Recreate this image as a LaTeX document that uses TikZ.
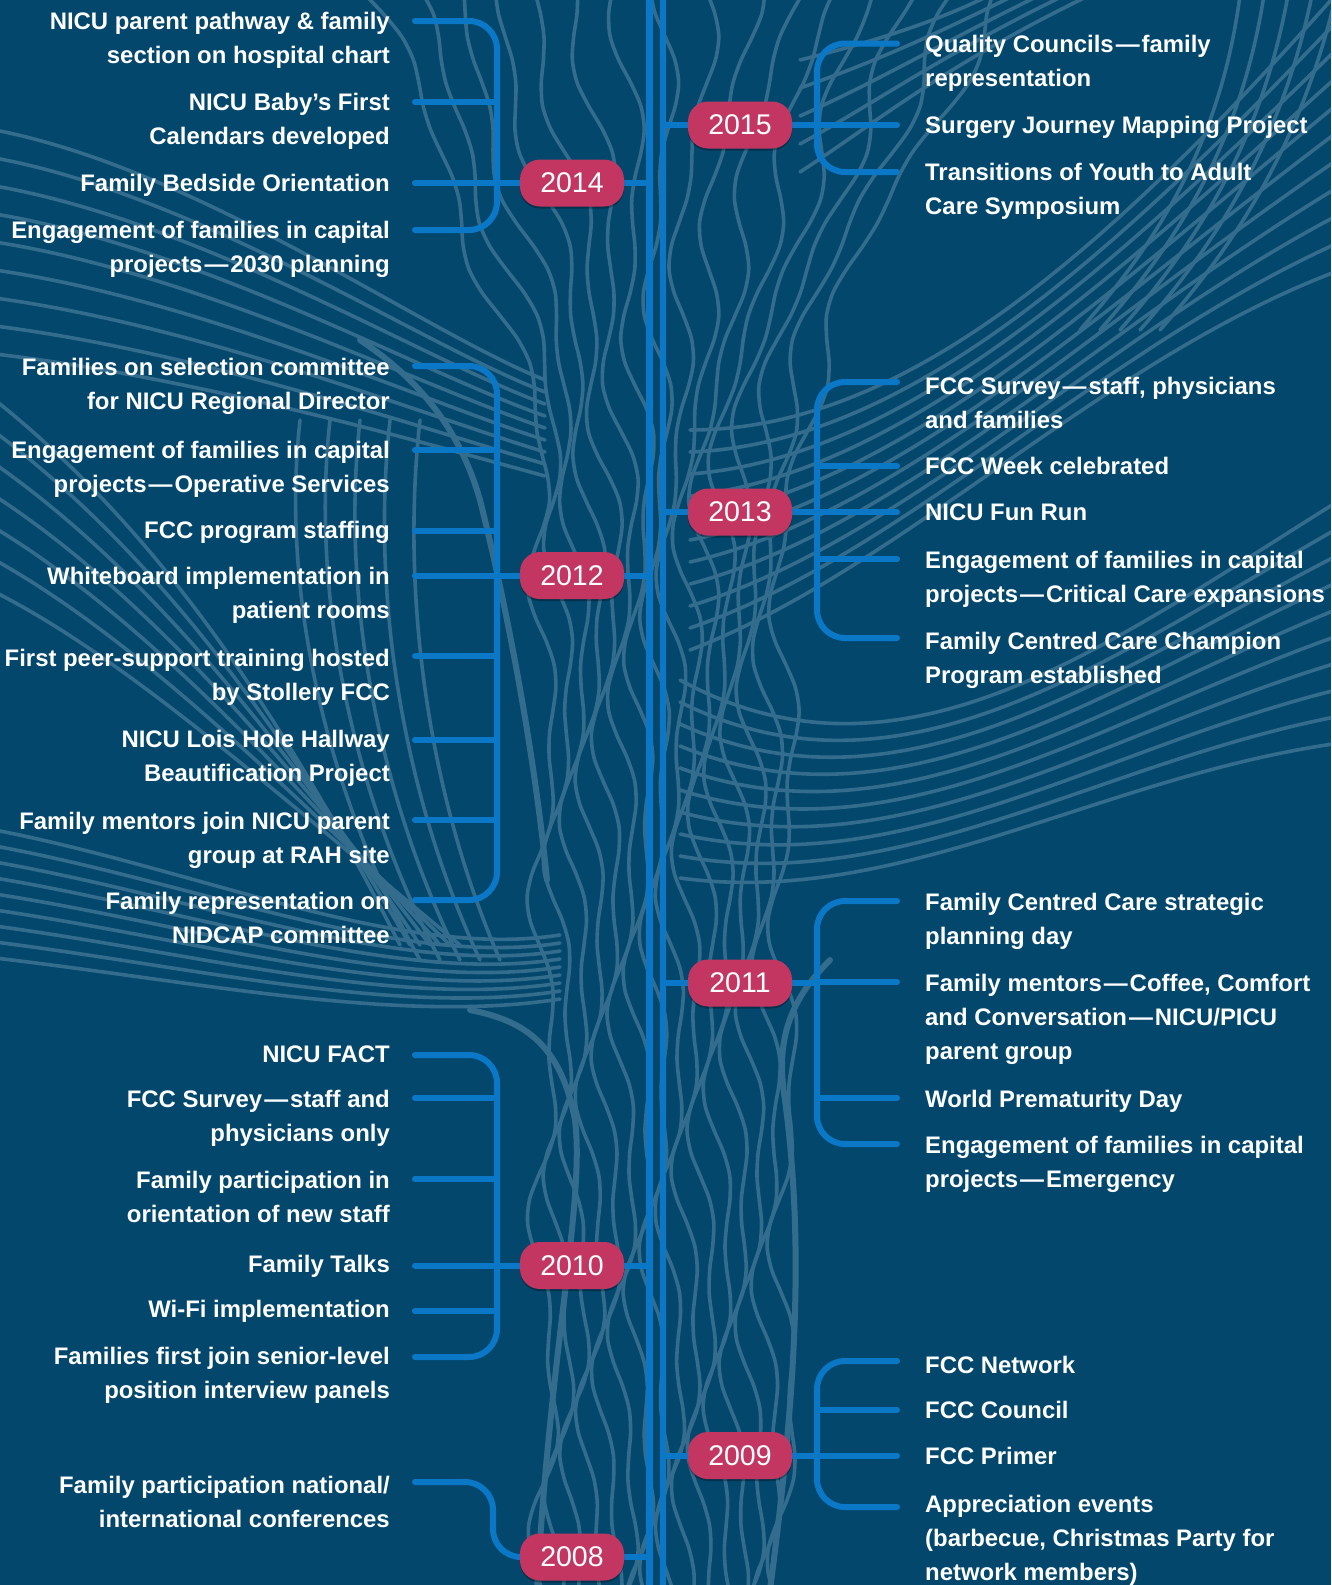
\documentclass[tikz,border=0pt]{standalone}
\usepackage{fontspec}
\setmainfont{Liberation Sans}
\usetikzlibrary{shadows}
\definecolor{bgc}{HTML}{03476D}
\definecolor{grainc}{HTML}{336C8D}
\definecolor{brc}{HTML}{0A78C6}
\definecolor{pillc}{HTML}{C33662}
\newcommand\itemfont{\fontsize{23.9}{34}\selectfont\bfseries}
\newcommand\yearfont{\fontsize{28.5}{34}\selectfont}
\newcommand\Lt[1]{\begin{tabular}[t]{@{}r@{}}#1\end{tabular}}
\newcommand\Rt[1]{\begin{tabular}[t]{@{}l@{}}#1\end{tabular}}
\newcommand\md{\kern2pt—\kern2pt}
\tikzset{
  grain/.style={draw=grainc, line width=3.6pt, line cap=round, line join=round},
  grainedge/.style={grain, line width=6pt},
  br/.style={draw=brc, line width=6pt, line cap=round, rounded corners=28pt},
  tick/.style={draw=brc, line width=6pt, line cap=round},
  trunk/.style={draw=brc, line width=6.5pt},
  pill/.style={fill=pillc, rounded corners=20pt, minimum width=104pt, minimum height=47pt,
    inner sep=0pt, text=white, font=\yearfont,
    drop shadow={shadow xshift=0pt, shadow yshift=-2pt, opacity=0.3, fill=black}},
  lt/.style={anchor=base east, inner sep=0pt, text=white, font=\itemfont},
  rt/.style={anchor=base west, inner sep=0pt, text=white, font=\itemfont},
}
\begin{document}
\begin{tikzpicture}[x=1pt, y=-1pt]
\fill[bgc] (0,0) rectangle (1331,1585);
\clip (0,0) rectangle (1331,1585);
% ---------- wood grain ----------
% trunk
\foreach \i in {0,...,15}{
  \pgfmathsetmacro\f{\i/15}
  \draw[grain] plot[domain=-10:1595, samples=70, smooth, variable=\y]
   ({ (545 - 175*(max(0,(500-\y)/500))^1.4) + \f*((785 + 215*(max(0,(500-\y)/500))^1.4) - (545 - 175*(max(0,(500-\y)/500))^1.4)) + 11*sin(\y*1.1 + \i*47) + 7*sin(\y*2.3 + \i*91) }, {\y});
}
\draw[grainedge] (537,1590) .. controls (550,1350) and (585,1200) .. (575,1120) .. controls (560,1040) and (520,1020) .. (470,1010);
\draw[grainedge] (770,1590) .. controls (795,1400) and (805,1250) .. (785,1100) .. controls (775,1040) and (790,1000) .. (830,960);
\draw[grainedge] (547,880) .. controls (535,760) and (510,620) .. (480,500) .. controls (460,430) and (420,380) .. (360,340);
% upper-left branch
\foreach \i in {0,...,8}{
  \draw[grain] (-5,{130+\i*28}) .. controls (200,{170+\i*26}) and (420,{330+\i*14}) .. ({545},{380+\i*12});
}
% lower-left branch
\foreach \i in {0,...,8}{
  \draw[grain] (-5,{830+\i*16}) .. controls (200,{870+\i*14}) and (400,{960+\i*8}) .. (560,{935+\i*8});
}
% left middle
\foreach \i in {0,...,4}{
  \draw[grain] ({300+\i*30},420) .. controls ({280+\i*30},600) and ({330+\i*25},800) .. ({420+\i*20},960);
}
\foreach \i in {0,...,6}{
  \draw[grain] (-5,{400+\i*32}) .. controls (120,{500+\i*26}) and (250,{650+\i*20}) .. ({400+\i*10},945);
}
% upper-right branch
\foreach \i in {0,...,10}{
  \draw[grain] (690,{430+\i*22}) .. controls (900,{430+\i*14}) and (1100,{260+\i*10}) .. (1340,{-10+\i*28});
}
% right branch
\foreach \i in {0,...,9}{
  \draw[grain] (680,{680+\i*22}) .. controls (900,{800+\i*12}) and (1100,{650+\i*14}) .. (1340,{500+\i*27});
}
% top-right
\foreach \i in {0,...,4}{
  \draw[grain] ({1080+\i*20},330) .. controls ({1150+\i*20},250) and ({1220+\i*20},150) .. ({1240+\i*24},-5);
}
\foreach \i in {0,...,4}{
  \draw[grain] (800,{60+\i*28}) .. controls (880,{40+\i*20}) and (940,{20+\i*12}) .. ({990+\i*25},-5);
}
% ---------- trunk ----------
\coordinate (tL) at (649.5,0);
\coordinate (tR) at (663,0);
\draw[trunk] (649.5,-5) -- (649.5,1590);
\draw[trunk] (663,-5) -- (663,1590);
% ---------- pill centres ----------
\coordinate (c2014) at (572,183);
\coordinate (c2012) at (572,575.5);
\coordinate (c2010) at (572,1265.5);
\coordinate (c2008) at (572,1557);
\coordinate (c2015) at (740,125);
\coordinate (c2013) at (740,512);
\coordinate (c2011) at (740,983);
\coordinate (c2009) at (740,1455.5);
% ---------- connectors to trunk ----------
\foreach \p in {c2014,c2012,c2010,c2008}{
  \draw[tick, line cap=butt] (\p) -- (\p -| tL);
}
\foreach \p in {c2015,c2013,c2011,c2009}{
  \draw[tick, line cap=butt] (\p) -- (\p -| tR);
}
% ---------- left brackets ----------
\draw[br] (415,21) -- (497,21) -- (497,230) -- (415,230);
\foreach \y in {102,183}{\draw[tick] (415,\y) -- (497,\y);}
\draw[tick, line cap=butt] (497,183) -- (c2014);
\draw[br] (415,366) -- (497,366) -- (497,900) -- (415,900);
\foreach \y in {450,531,575.5,656,740,820}{\draw[tick] (415,\y) -- (497,\y);}
\draw[tick, line cap=butt] (497,575.5) -- (c2012);
\draw[br] (415,1055) -- (497,1055) -- (497,1357) -- (415,1357);
\foreach \y in {1098,1179,1265.5,1311}{\draw[tick] (415,\y) -- (497,\y);}
\draw[tick, line cap=butt] (497,1265.5) -- (c2010);
\draw[br] (415,1482) -- (493,1482) -- (493,1557) -- (c2008);
% ---------- right brackets ----------
\draw[br] (897,43.5) -- (817,43.5) -- (817,172) -- (897,172);
\draw[tick] (817,125) -- (897,125);
\draw[tick, line cap=butt] (c2015) -- (817,125);
\draw[br] (897,382) -- (817,382) -- (817,638) -- (897,638);
\foreach \y in {466,512,559}{\draw[tick] (817,\y) -- (897,\y);}
\draw[tick, line cap=butt] (c2013) -- (817,512);
\draw[br] (897,901) -- (817,901) -- (817,1144) -- (897,1144);
\foreach \y in {982,1098}{\draw[tick] (817,\y) -- (897,\y);}
\draw[tick, line cap=butt] (c2011) -- (817,983);
\draw[br] (897,1361) -- (817,1361) -- (817,1507) -- (897,1507);
\foreach \y in {1410,1455.5}{\draw[tick] (817,\y) -- (897,\y);}
\draw[tick, line cap=butt] (c2009) -- (817,1455.5);
% ---------- pills ----------
\node[pill] (p2014) at (c2014) {2014};
\node[pill] (p2012) at (c2012) {2012};
\node[pill] (p2010) at (c2010) {2010};
\node[pill] (p2008) at (c2008) {2008};
\node[pill] (p2015) at (c2015) {2015};
\node[pill] (p2013) at (c2013) {2013};
\node[pill] (p2011) at (c2011) {2011};
\node[pill] (p2009) at (c2009) {2009};
% ---------- left texts ----------
\node[lt] (a1) at (390,29) {\Lt{NICU parent pathway \& family\\section on hospital chart}};
\node[lt] (a2) at (390,110.5) {\Lt{NICU Baby’s First\\Calendars developed}};
\node[lt] (a3) at (390,191.5) {Family Bedside Orientation};
\node[lt] (a4) at (390,238.5) {\Lt{Engagement of families in capital\\projects\md 2030 planning}};
\node[lt] (b1) at (390,375) {\Lt{Families on selection committee\\for NICU Regional Director}};
\node[lt] (b2) at (390,458.5) {\Lt{Engagement of families in capital\\projects\md Operative Services}};
\node[lt] (b3) at (390,538.5) {FCC program staffing};
\node[lt] (b4) at (390,584) {\Lt{Whiteboard implementation in\\patient rooms}};
\node[lt] (b5) at (390,666.5) {\Lt{First peer-support training hosted\\by Stollery FCC}};
\node[lt] (b6) at (390,747.5) {\Lt{NICU Lois Hole Hallway\\Beautification Project}};
\node[lt] (b7) at (390,829.5) {\Lt{Family mentors join NICU parent\\group at RAH site}};
\node[lt] (b8) at (390,909.5) {\Lt{Family representation on\\NIDCAP committee}};
\node[lt] (c1) at (390,1062.5) {NICU FACT};
\node[lt] (c2) at (390,1107.5) {\Lt{FCC Survey\md staff and\\physicians only}};
\node[lt] (c3) at (390,1188.5) {\Lt{Family participation in\\orientation of new staff}};
\node[lt] (c4) at (390,1272) {Family Talks};
\node[lt] (c5) at (390,1317.5) {Wi-Fi implementation};
\node[lt] (c6) at (390,1364.5) {\Lt{Families first join senior-level\\position interview panels}};
\node[lt] (d1) at (390,1493.5) {\Lt{Family participation national/\\international conferences}};
% ---------- right texts ----------
\node[rt] (e1) at (925,52) {\Rt{Quality Councils\md family\\representation}};
\node[rt] (e2) at (925,133.5) {Surgery Journey Mapping Project};
\node[rt] (e3) at (925,180.5) {\Rt{Transitions of Youth to Adult\\Care Symposium}};
\node[rt] (f1) at (925,394) {\Rt{FCC Survey\md staff, physicians\\and families}};
\node[rt] (f2) at (925,474.5) {FCC Week celebrated};
\node[rt] (f3) at (925,520.5) {NICU Fun Run};
\node[rt] (f4) at (925,568.5) {\Rt{Engagement of families in capital\\projects\md Critical Care expansions}};
\node[rt] (f5) at (925,649.5) {\Rt{Family Centred Care Champion\\Program established}};
\node[rt] (g1) at (925,910.5) {\Rt{Family Centred Care strategic\\planning day}};
\node[rt] (g2) at (925,991.5) {\Rt{Family mentors\md Coffee, Comfort\\and Conversation\md NICU/PICU\\parent group}};
\node[rt] (g3) at (925,1107.5) {World Prematurity Day};
\node[rt] (g4) at (925,1153.5) {\Rt{Engagement of families in capital\\projects\md Emergency}};
\node[rt] (h1) at (925,1373) {FCC Network};
\node[rt] (h2) at (925,1418.5) {FCC Council};
\node[rt] (h3) at (925,1464) {FCC Primer};
\node[rt] (h4) at (925,1512.5) {\Rt{Appreciation events\\(barbecue, Christmas Party for\\network members)}};
\end{tikzpicture}
\end{document}
